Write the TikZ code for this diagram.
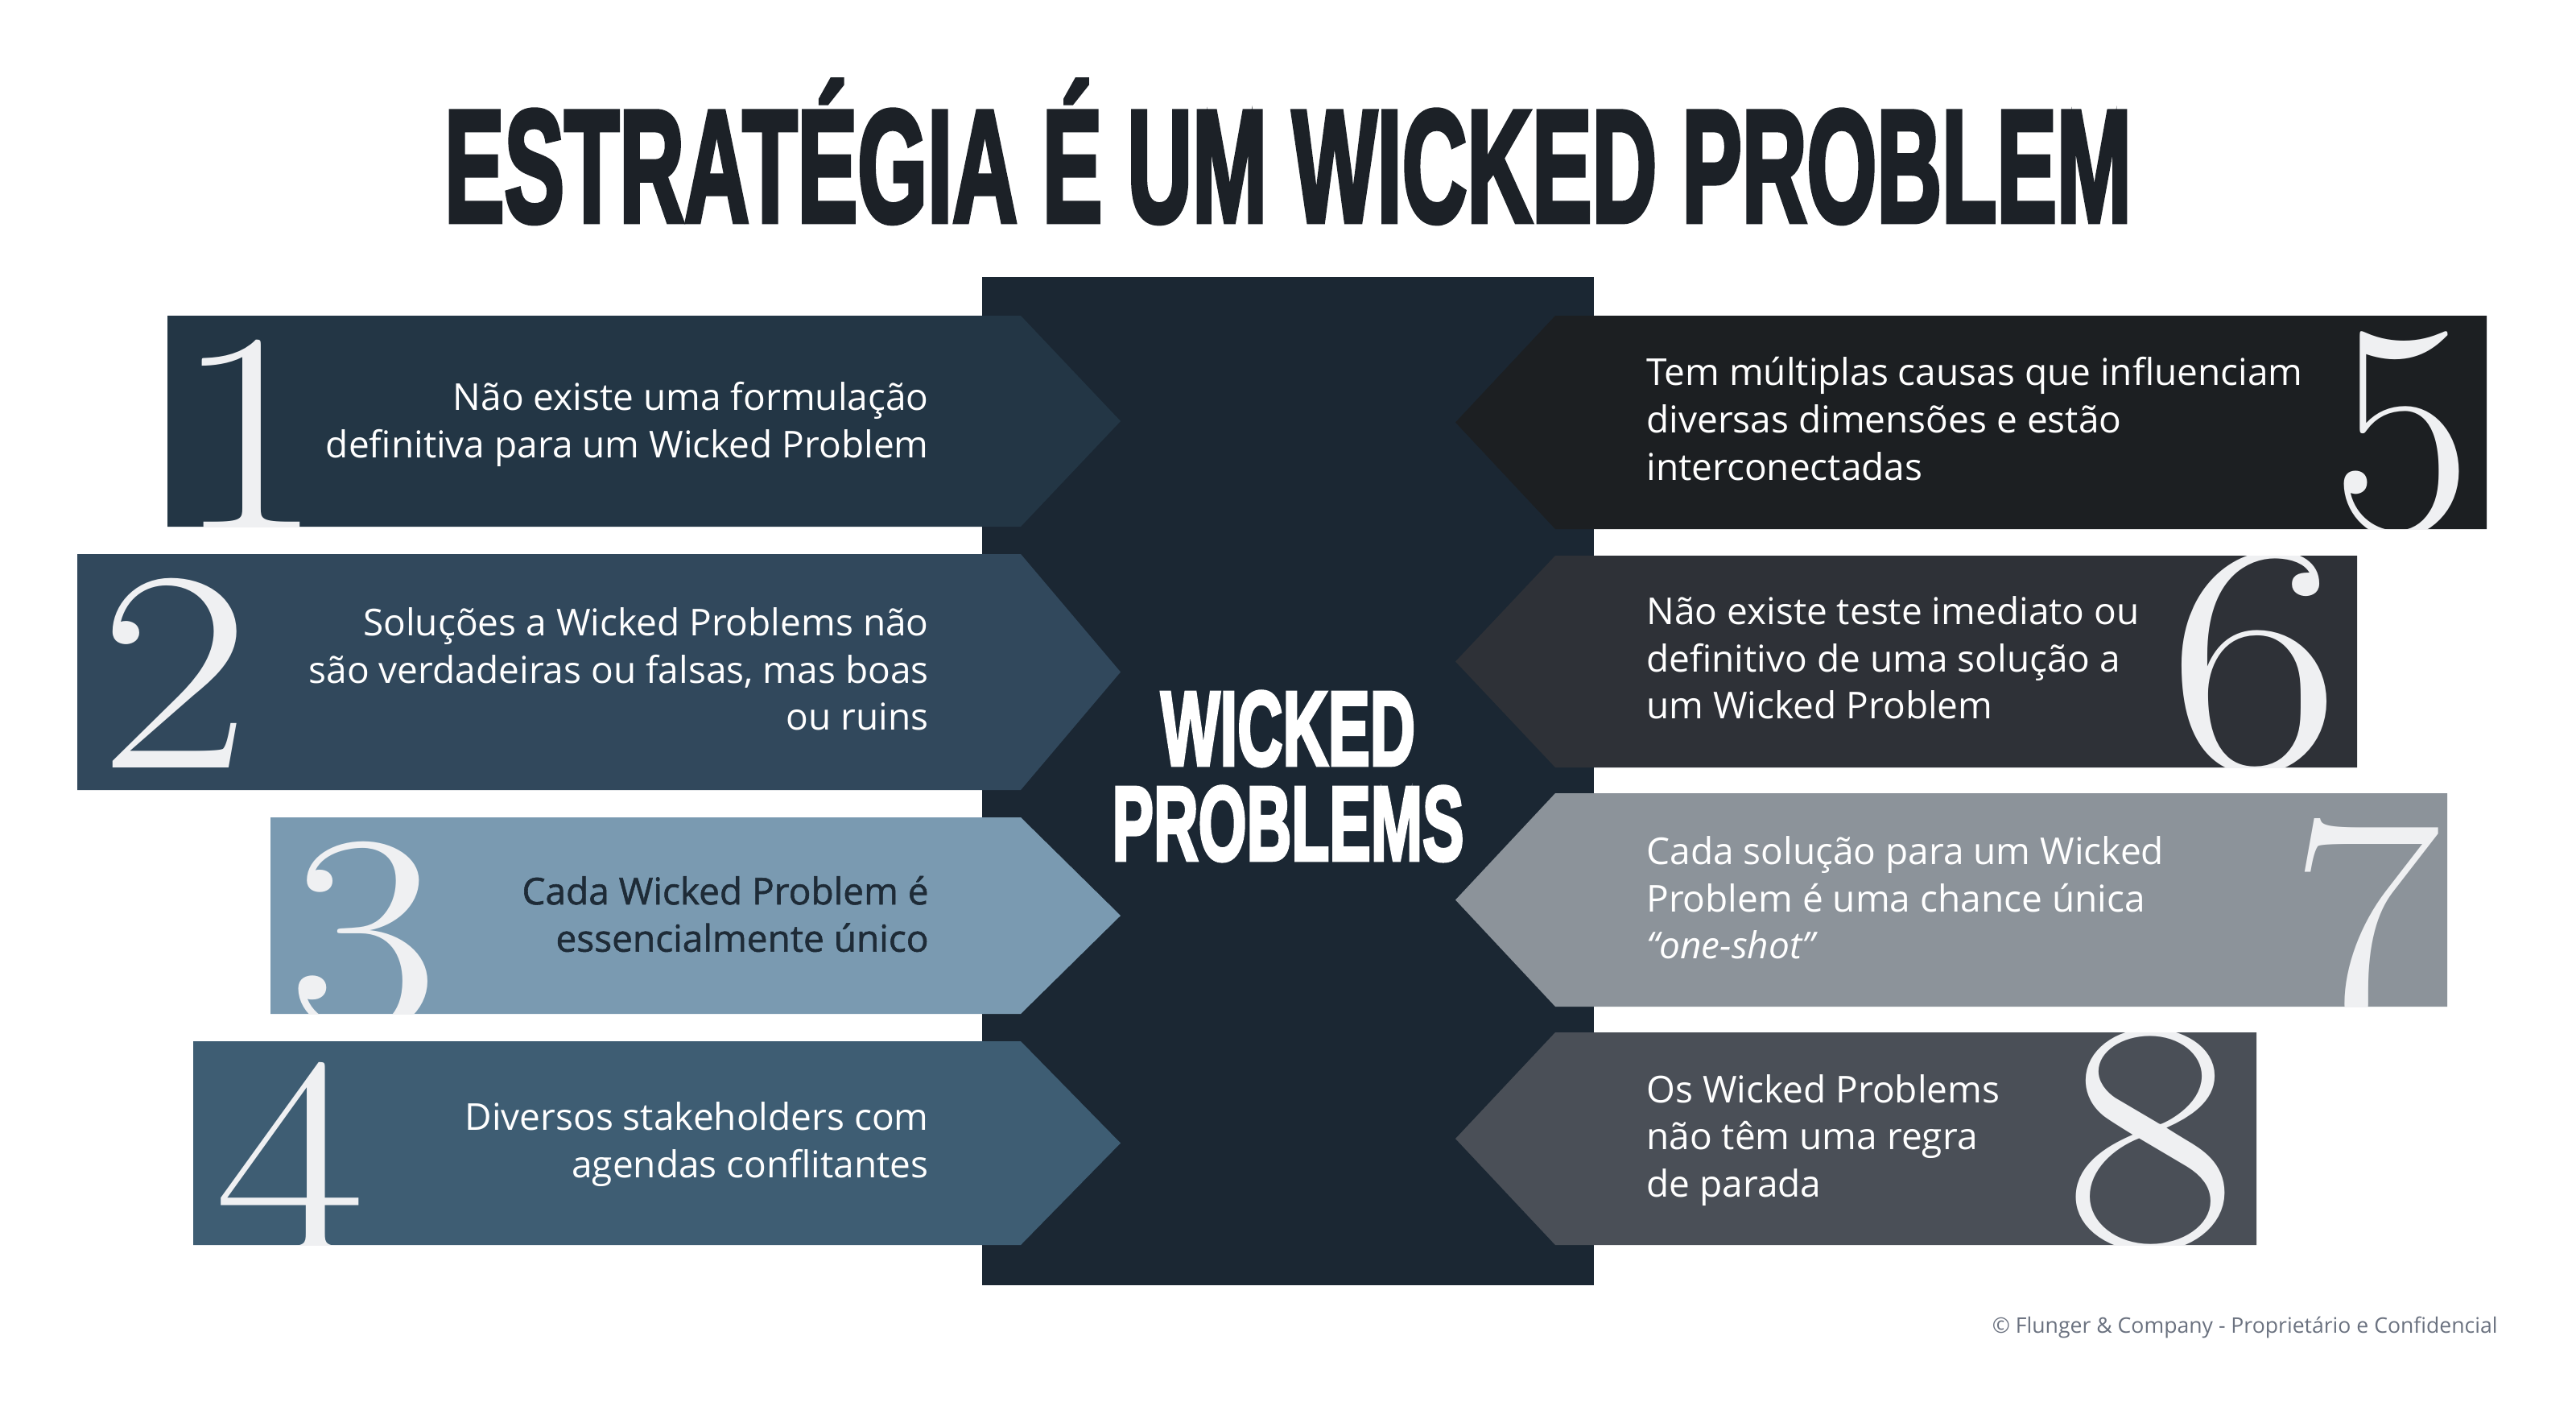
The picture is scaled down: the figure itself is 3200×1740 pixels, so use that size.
\documentclass[tikz,border=0pt]{standalone}
\usepackage{fontspec}
\usepackage{graphicx}
\setmainfont{Open Sans}
\newfontfamily\titlefont{Liberation Sans}[FakeBold=3.5]
\newfontfamily\medfont{Open Sans}[FakeBold=1.2]
\newfontfamily\digitfont{Latin Modern Roman}
\definecolor{titlec}{HTML}{1C2127}
\definecolor{centerc}{HTML}{1B2733}
\definecolor{cA}{HTML}{233645}
\definecolor{cB}{HTML}{31485C}
\definecolor{cC}{HTML}{7A9AB1}
\definecolor{cD}{HTML}{3E5D73}
\definecolor{cE}{HTML}{1C1F22}
\definecolor{cF}{HTML}{2E3137}
\definecolor{cG}{HTML}{8C939A}
\definecolor{cH}{HTML}{4A4F57}
\definecolor{digitc}{HTML}{EFF0F2}
\definecolor{darktext}{HTML}{1E2B37}
\definecolor{footc}{HTML}{6B7280}
\newcommand\lpath[3]{(#1,#2) -- (1268,#2) -- (1392,{0.5*(#2+#3)}) -- (1268,#3) -- (#1,#3) -- cycle}
\newcommand\rpath[3]{(#1,#2) -- (1932,#2) -- (1808,{0.5*(#2+#3)}) -- (1932,#3) -- (#1,#3) -- cycle}
\newcommand\bigdigit[3]{\scalebox{#2}[1]{\digitfont\fontsize{#1}{#1}\selectfont #3}}
\tikzset{
  bodytext/.style={font=\fontsize{23}{29.3}\selectfont, text=white, inner sep=0pt},
  lefttext/.style={bodytext, anchor=east, align=right},
  righttext/.style={bodytext, anchor=west, align=left},
  digit/.style={text=digitc, inner sep=0pt, anchor=base},
}
\begin{document}
\begin{tikzpicture}[x=0.5pt,y=-0.5pt]
\useasboundingbox (0,0) rectangle (3200,1740);
\fill[white] (0,0) rectangle (3200,1740);

% title
\node[anchor=base, text=titlec, inner sep=0pt] (title) at (1600,275)
  {\resizebox{1048pt}{\height}{\titlefont\bfseries\fontsize{99}{99}\selectfont ESTRATÉGIA É UM WICKED PROBLEM}};

% central column
\fill[centerc] (1220,344) rectangle (1980,1596);

% left boxes
\begin{scope}
  \clip \lpath{208}{392}{654};
  \fill[cA] (0,0) rectangle (3200,1740);
  \node[digit] (d1) at (309,657) {\bigdigit{178}{1.15}{1}};
\end{scope}
\node[lefttext] (t1) at (1154,527) {Não existe uma formulação\\definitiva para um Wicked Problem};

\begin{scope}
  \clip \lpath{96}{688}{981};
  \fill[cB] (0,0) rectangle (3200,1740);
  \node[digit] (d2) at (217,953) {\bigdigit{178}{1.15}{2}};
\end{scope}
\node[lefttext] (t2) at (1154,831) {Soluções a Wicked Problems não\\são verdadeiras ou falsas, mas boas\\ou ruins};

\begin{scope}
  \clip \lpath{336}{1015}{1259};
  \fill[cC] (0,0) rectangle (3200,1740);
  \node[digit] (d3) at (451,1280) {\bigdigit{178}{1.15}{3}};
\end{scope}
\node[lefttext, text=darktext, font=\medfont\fontsize{23}{29.3}\selectfont] (t3) at (1154,1135) {Cada Wicked Problem é\\essencialmente único};

\begin{scope}
  \clip \lpath{240}{1293}{1546};
  \fill[cD] (0,0) rectangle (3200,1740);
  \node[digit] (d4) at (360,1557) {\bigdigit{178}{1.15}{4}};
\end{scope}
\node[lefttext] (t4) at (1154,1421) {Diversos stakeholders com\\agendas conflitantes};

% right boxes
\begin{scope}
  \clip \rpath{3089}{392}{657};
  \fill[cE] (0,0) rectangle (3200,1740);
  \node[digit] (d5) at (2984,662) {\bigdigit{190}{1.0}{5}};
\end{scope}
\node[righttext] (t5) at (2045,520) {Tem múltiplas causas que influenciam\\diversas dimensões e estão\\interconectadas};

\begin{scope}
  \clip \rpath{2928}{690}{953};
  \fill[cF] (0,0) rectangle (3200,1740);
  \node[digit] (d6) at (2801,955) {\bigdigit{205}{1.15}{6}};
\end{scope}
\node[righttext] (t6) at (2045,817) {Não existe teste imediato ou\\definitivo de uma solução a\\um Wicked Problem};

\begin{scope}
  \clip \rpath{3040}{985}{1250};
  \fill[cG] (0,0) rectangle (3200,1740);
  \node[digit] (d7) at (2938,1257) {\bigdigit{178}{1.15}{7}};
\end{scope}
\node[righttext] (t7) at (2045,1115) {Cada solução para um Wicked\\Problem é uma chance única\\\textit{“one-shot”}};

\begin{scope}
  \clip \rpath{2803}{1282}{1546};
  \fill[cH] (0,0) rectangle (3200,1740);
  \node[digit] (d8) at (2672,1548) {\bigdigit{205}{1.15}{8}};
\end{scope}
\node[righttext] (t8) at (2045,1416) {Os Wicked Problems\\não têm uma regra\\de parada};

% center label
\node[anchor=base, text=white, inner sep=0pt] (wk) at (1600,950)
  {\resizebox{158pt}{\height}{\titlefont\bfseries\fontsize{65.5}{65.5}\selectfont WICKED}};
\node[anchor=base, text=white, inner sep=0pt] (pr) at (1600,1068)
  {\resizebox{218.5pt}{\height}{\titlefont\bfseries\fontsize{65.5}{65.5}\selectfont PROBLEMS}};

% footer
\node[anchor=base east, text=footc, inner sep=0pt, font=\fontsize{13.3}{16}\selectfont] (foot) at (3103,1655.5)
  {© Flunger \& Company - Proprietário e Confidencial};
\end{tikzpicture}
\end{document}
